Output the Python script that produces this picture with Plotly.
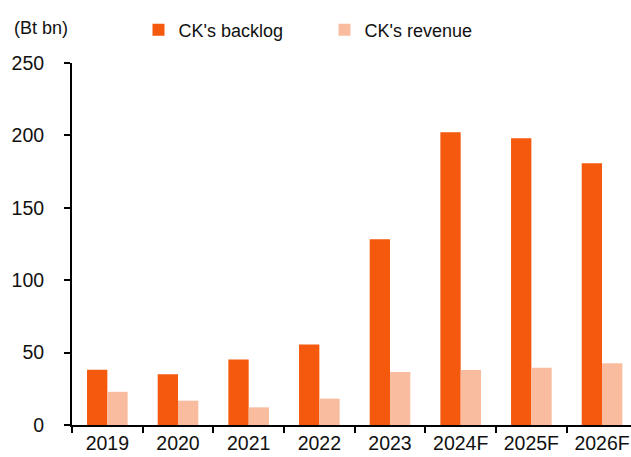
import plotly.graph_objects as go

categories = ["2019", "2020", "2021", "2022", "2023", "2024F", "2025F", "2026F"]
backlog = [38.2, 35.0, 45.3, 55.6, 128.3, 202.2, 198.0, 180.8]
revenue = [22.9, 16.8, 12.2, 18.2, 36.6, 37.9, 39.5, 42.6]

C_BACK = "#F4590D"
C_REV = "#F9BC9F"
FONT = "Arial, Liberation Sans, sans-serif"

fig = go.Figure()
fig.add_trace(go.Bar(x=categories, y=backlog, name="CK's backlog",
                     marker=dict(color=C_BACK, line=dict(width=0))))
fig.add_trace(go.Bar(x=categories, y=revenue, name="CK's revenue",
                     marker=dict(color=C_REV, line=dict(width=0))))

fig.update_layout(
    width=631, height=457,
    margin=dict(l=72, r=0, t=63, b=32, autoexpand=False),
    paper_bgcolor="white", plot_bgcolor="white",
    barmode="group", bargap=0.425, bargroupgap=0,
    font=dict(family=FONT, size=19, color="#111111"),
    showlegend=True,
    legend=dict(orientation="h", xref="container", yref="container",
                x=0.2195, xanchor="left", y=1 - 30 / 457, yanchor="middle",
                font=dict(size=18), traceorder="normal",
                entrywidth=141, entrywidthmode="pixels",
                bgcolor="rgba(0,0,0,0)"),
    xaxis=dict(type="category", range=[-0.5, 7.41], tickson="boundaries",
               showline=True, linecolor="black", linewidth=2,
               ticks="outside", ticklen=6, tickwidth=2, tickcolor="black",
               showgrid=False, zeroline=False, automargin=False,
               tickfont=dict(size=19.5)),
    yaxis=dict(range=[0, 250], tickvals=[0, 50, 100, 150, 200, 250],
               showline=True, linecolor="black", linewidth=2,
               ticks="outside", ticklen=6, tickwidth=2, tickcolor="black",
               showgrid=False, zeroline=False, ticklabelstandoff=16,
               automargin=False, tickfont=dict(size=19.5)),
    annotations=[dict(text="(Bt bn)", xref="paper", yref="paper",
                      x=-0.1073, y=1.0, xanchor="left", yanchor="middle", yshift=35,
                      showarrow=False, font=dict(size=18))],
)

fig.write_html("out.html", config={"displayModeBar": False},
               post_script="document.body.style.margin='0';document.body.style.overflow='hidden';")
